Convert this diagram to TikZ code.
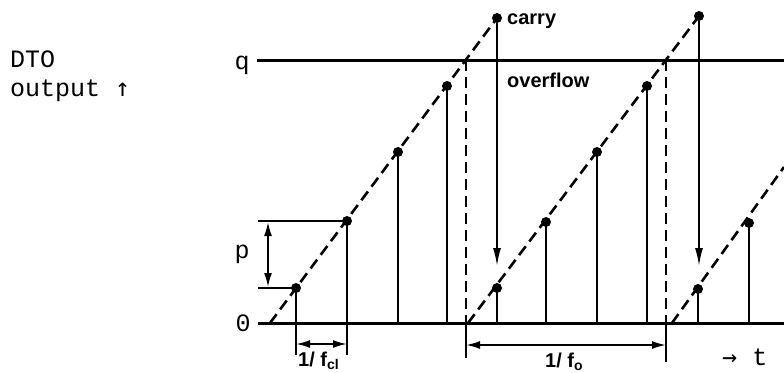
\documentclass[tikz,border=0pt]{standalone}
\usepackage{fontspec}
\setmonofont{Liberation Mono}
\newfontfamily\annofont{Liberation Sans}
\newfontfamily\arrowfont{DejaVu Sans Mono}
\usepackage{tikz}
\usetikzlibrary{calc, arrows.meta}

\tikzset{
  axisline/.style={line width=3pt},
  ramp/.style={line width=2.6pt, dash pattern=on 11pt off 6pt},
  stem/.style={line width=2.8pt},
  sample/.style={circle, fill=black, inner sep=0pt, minimum size=10pt},
  carryline/.style={line width=1.8pt, -{Latex[length=18pt,width=8pt]}},
  dimline/.style={line width=1.8pt, {Latex[length=14pt,width=8pt]}-{Latex[length=14pt,width=8pt]}},
  tickline/.style={line width=1.8pt},
  ttlabel/.style={font=\fontsize{25}{30}\selectfont\ttfamily, inner sep=0pt},
  annolabel/.style={font=\fontsize{20}{22}\selectfont\annofont\bfseries, inner sep=0pt},
}

\begin{document}
\begin{tikzpicture}[x=1pt, y=-1pt]
  \useasboundingbox (0,0) rectangle (784,372);
  % axis labels
  \node[ttlabel, anchor=base west] (dto) at (10,67) {DTO};
  \node[ttlabel, anchor=base west] (output) at (10,96) {output {\arrowfont ↑}};
  \node[ttlabel] (qlab) at (242,65) {q};
  \node[ttlabel] (plab) at (242,254) {p};
  \node[ttlabel] (zlab) at (243,323) {0};
  \node[ttlabel, anchor=base west] (tlab) at (722,365) {{\arrowfont →} t};

  % zero line and q line
  \coordinate (zl) at (258,323);
  \coordinate (zr) at (784,323);
  \coordinate (ql) at (257,60);
  \coordinate (qr) at (784,60);
  \draw[axisline] (zl) -- (zr);
  \draw[axisline] (ql) -- (qr);

  % phase ramps
  \node[sample] (c1) at (497,18) {};
  \node[sample] (c2) at (699,16) {};
  \coordinate (r1) at (270,323);
  \coordinate (r2) at (468,323);
  \coordinate (r3) at (672,323);
  \coordinate (r3end) at (784,167);
  \draw[ramp] (r1) -- (c1.center);
  \draw[ramp] (r2) -- (c2.center);
  \draw[ramp] (r3) -- (r3end);

  % samples
  \foreach \x/\y [count=\i] in {296/288, 347/221, 398/152, 447/86, 497/288,
                                546/222, 597/152, 647/86, 698/289, 749/223} {
    \node[sample] (s\i) at (\x,\y) {};
    \coordinate (b\i) at (\x,323);
    \draw[stem] (s\i.center) -- (b\i);
  }

  % carry
  \coordinate (c1tip) at (497,266);
  \coordinate (c2tip) at (699,266);
  \draw[carryline] (c1) -- (c1tip);
  \draw[carryline] (c2) -- (c2tip);
  \node[annolabel, anchor=base west] (carry) at (507,24) {carry};
  \node[annolabel, anchor=base west] (overflow) at (507,87) {overflow};

  % overflow instants
  \coordinate (o1top) at (466,60);
  \coordinate (o1) at (466,323);
  \coordinate (o1low) at (466,358);
  \coordinate (o2top) at (666,60);
  \coordinate (o2) at (666,323);
  \coordinate (o2low) at (666,362);
  \draw[tickline, dash pattern=on 11pt off 6pt] (o1top) -- (o1);
  \draw[tickline, dash pattern=on 11pt off 6pt] (o2top) -- (o2);
  \draw[tickline] (o1) -- (o1low);
  \draw[tickline] (o2) -- (o2low);
  \draw[dimline] (466,345) -- (666,345);
  \node[annolabel, anchor=base west] (fo) at (545,367) {1/ f\textsubscript{o}};

  % clock period
  \coordinate (k1) at (296,355);
  \coordinate (k2) at (347,355);
  \draw[tickline] (b1) -- (k1);
  \draw[tickline] (b2) -- (k2);
  \draw[dimline] (296,344) -- (347,344);
  \node[annolabel, anchor=base west] (fcl) at (298,366) {1/ f\textsubscript{cl}};

  % increment p
  \coordinate (p1) at (258,288);
  \coordinate (p2) at (258,221);
  \draw[stem] (p1) -- (s1.center);
  \draw[stem] (p2) -- (s2.center);
  \draw[dimline] (268,222) -- (268,287);
\end{tikzpicture}
\end{document}
